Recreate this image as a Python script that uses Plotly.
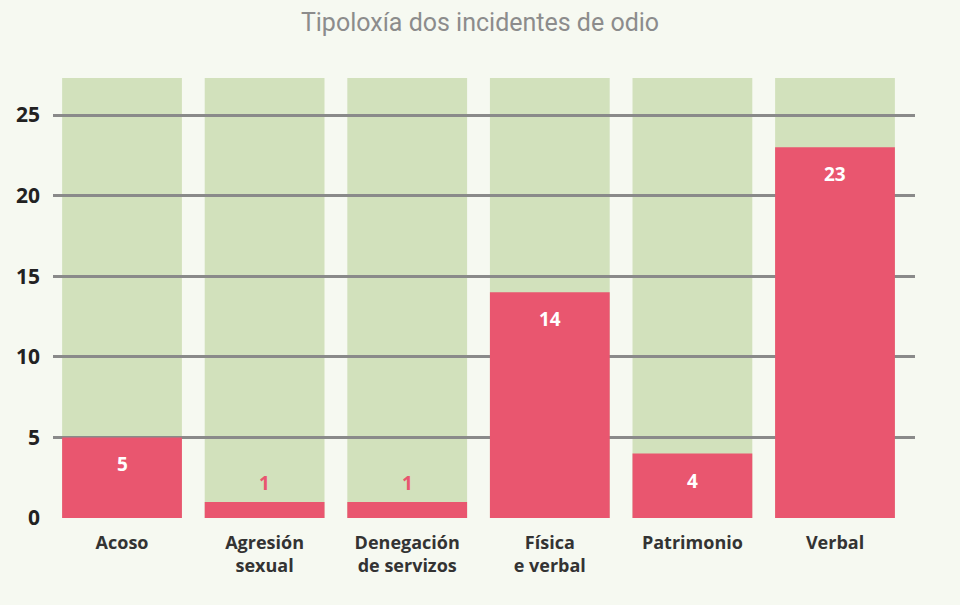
import plotly.graph_objects as go

categories = ["Acoso", "Agresión<br>sexual", "Denegación<br>de servizos", "Física<br>e verbal", "Patrimonio", "Verbal"]
values = [5, 1, 1, 14, 4, 23]
background_max = 27.3
y_ticks = [0, 5, 10, 15, 20, 25]

RED = "#e9566f"
GREEN = "#d2e1bc"
BG = "#f6f9f1"
GRID = "#8a8a8a"
bar_width = 0.84

fig = go.Figure()

# Green background columns drawn beneath gridlines
for i, _ in enumerate(categories):
    fig.add_shape(type="rect", xref="x", yref="y",
                  x0=i - bar_width / 2, x1=i + bar_width / 2,
                  y0=0, y1=background_max,
                  fillcolor=GREEN, line_width=0, layer="below")

fig.add_trace(go.Bar(x=list(range(len(categories))), y=values, marker_color=RED,
                     marker_line_width=0, width=bar_width, hoverinfo="skip"))

for i, v in enumerate(values):
    inside = v >= 3
    fig.add_annotation(x=i, y=v, text=f"<b>{v}</b>", showarrow=False,
                       yshift=-27 if inside else 19,
                       font=dict(family="Open Sans", size=19, color="white" if inside else RED))

fig.update_layout(
    width=960, height=605,
    paper_bgcolor=BG, plot_bgcolor=BG,
    margin=dict(l=53, r=45, t=78, b=87),
    showlegend=False,
    title=dict(text="Tipoloxía dos incidentes de odio", x=0.5, xanchor="center",
               y=0.977, yanchor="top",
               font=dict(family="Roboto", size=25, color="#8c8c8c")),
    xaxis=dict(tickmode="array", tickvals=list(range(len(categories))), ticktext=[f"<b>{c}</b>" for c in categories],
               range=[-0.484, 5.561], showgrid=False, zeroline=False,
               tickfont=dict(family="Open Sans", size=18, color="#333333"), ticks="", fixedrange=True,
               ticklabelstandoff=12),
    yaxis=dict(range=[0, background_max], tickmode="array", tickvals=y_ticks,
               ticktext=[f"<b>{t}</b>" for t in y_ticks],
               showgrid=True, gridcolor=GRID, gridwidth=3, zeroline=False,
               tickfont=dict(family="Open Sans", size=21, color="#222222"), ticks="",
               ticklabelstandoff=12),
)

fig.write_html("out.html", config={"displayModeBar": False},
               post_script="document.body.style.margin='0';document.body.style.background='" + BG + "';")
